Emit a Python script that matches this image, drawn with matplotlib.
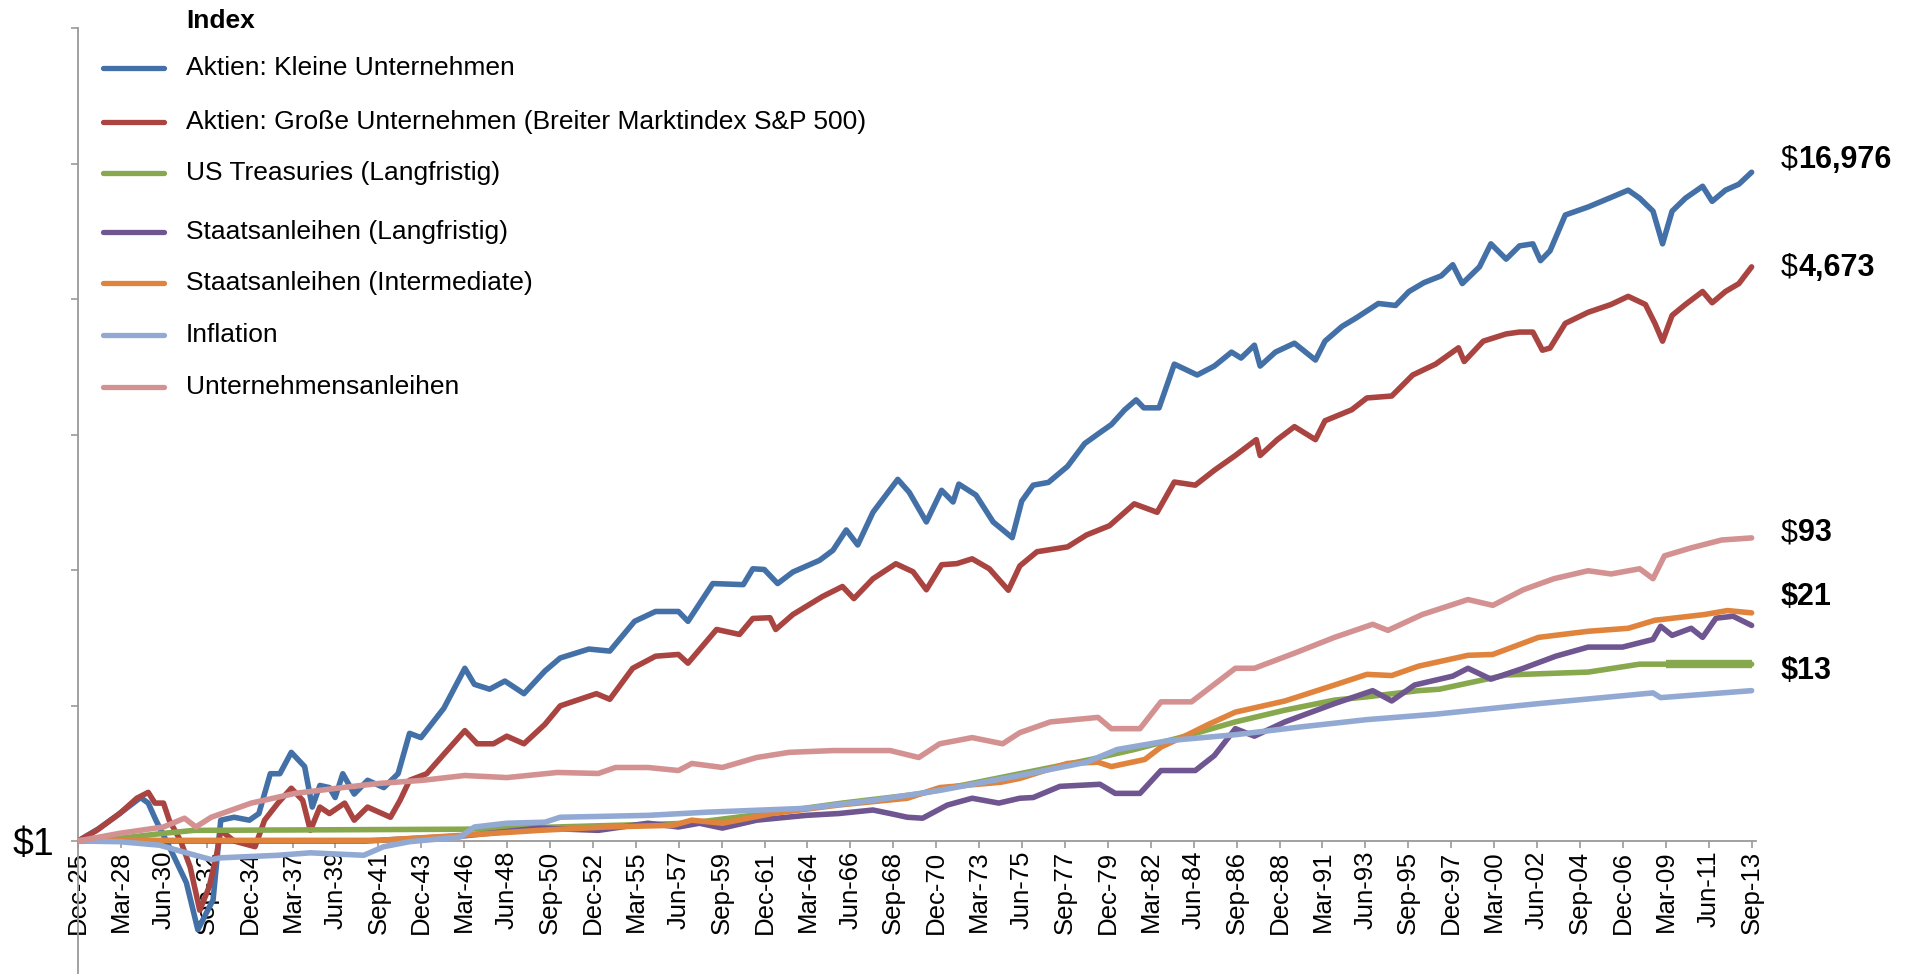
import numpy as np
import matplotlib
matplotlib.use('Agg')
import matplotlib.pyplot as plt
from matplotlib.lines import Line2D
from matplotlib.ticker import NullLocator
from matplotlib.transforms import offset_copy

plt.rcParams['font.family'] = ['Liberation Sans', 'DejaVu Sans']

# Series (growth of $1), x in decimal years
yrs_small = [1925.92, 1927.0, 1928.1, 1929.2, 1929.6, 1930.0, 1930.7, 1931.6, 1932.2, 1933.0, 1933.4, 1934.1,
             1934.9, 1935.4, 1936.0, 1936.5, 1937.1, 1937.8, 1938.2, 1938.6, 1939.1, 1939.4, 1939.8, 1940.4,
             1941.1, 1941.95, 1942.7, 1943.3, 1943.9, 1945.1, 1946.2, 1946.7, 1947.5, 1948.3, 1949.3, 1950.4,
             1951.2, 1952.7, 1953.8, 1955.1, 1956.2, 1957.4, 1957.9, 1959.2, 1960.8, 1961.3, 1961.9, 1962.6,
             1963.4, 1964.8, 1965.5, 1966.2, 1966.8, 1967.6, 1968.9, 1969.5, 1970.4, 1971.2, 1971.8, 1972.1,
             1973.0, 1973.9, 1974.9, 1975.4, 1976.0, 1976.8, 1977.8, 1978.7, 1979.5, 1980.1, 1980.8, 1981.4,
             1981.8, 1982.6, 1983.4, 1984.6, 1985.5, 1986.4, 1986.9, 1987.6, 1987.9, 1988.7, 1989.7, 1990.8,
             1991.3, 1992.2, 1992.9, 1994.1, 1995.0, 1995.7, 1996.5, 1997.4, 1998.0, 1998.5, 1999.4, 2000.0,
             2000.8, 2001.5, 2002.2, 2002.6, 2003.1, 2003.9, 2005.1, 2006.2, 2007.2, 2007.8, 2008.5, 2009.0,
             2009.5, 2010.2, 2011.1, 2011.6, 2012.3, 2013.0, 2013.67]
val_small = [1.0, 1.2, 1.5, 1.9, 1.75, 1.36, 0.92, 0.54, 0.27, 0.42, 1.36, 1.42,
             1.36, 1.5, 2.7, 2.7, 3.7, 3.0, 1.65, 2.27, 2.2, 1.9, 2.7, 2.0,
             2.45, 2.2, 2.7, 4.9, 4.6, 7.1, 12.8, 10.1, 9.4, 10.6, 8.8, 12.3,
             14.9, 17, 16.5, 25.6, 29.6, 29.6, 25.6, 44.7, 44, 55.6, 55, 44.7,
             53, 63, 73, 98.6, 79, 128, 208, 172, 111, 177, 149, 194,
             165, 111, 88, 151, 191, 199, 252, 353, 415, 467, 581, 673,
             598, 598, 1140, 971, 1108, 1361, 1247, 1508, 1108, 1361, 1553, 1211,
             1600, 1992, 2240, 2790, 2710, 3327, 3800, 4200, 4943, 3744, 4790, 6730,
             5370, 6530, 6730, 5250, 6070, 10300, 11600, 13200, 14860, 13200, 10900, 6730,
             10900, 13200, 15740, 12600, 14860, 16220, 19360]

yrs_large = [1925.92, 1926.9, 1928.1, 1929.0, 1929.6, 1929.95, 1930.4, 1930.7, 1931.3, 1931.8, 1932.3, 1932.8,
             1933.2, 1933.4, 1934.1, 1935.2, 1935.7, 1936.4, 1937.1, 1937.7, 1938.1, 1938.6, 1939.1, 1939.9,
             1940.4, 1941.1, 1942.3, 1942.8, 1943.3, 1944.2, 1945.1, 1946.2, 1946.85, 1947.7, 1948.4, 1949.3,
             1950.4, 1951.2, 1953.1, 1953.8, 1955.0, 1956.2, 1957.4, 1957.9, 1959.4, 1960.6, 1961.3, 1962.2,
             1962.5, 1963.4, 1964.95, 1966.0, 1966.6, 1967.6, 1968.8, 1969.7, 1970.4, 1971.2, 1972.0, 1972.8,
             1973.7, 1974.7, 1975.3, 1976.2, 1977.8, 1978.8, 1980.0, 1981.3, 1982.5, 1983.4, 1984.5, 1985.5,
             1986.6, 1987.7, 1987.9, 1988.8, 1989.7, 1990.8, 1991.3, 1992.7, 1993.5, 1994.8, 1995.9, 1997.1,
             1998.3, 1998.6, 1999.6, 2000.8, 2001.5, 2002.2, 2002.7, 2003.1, 2003.9, 2005.1, 2006.3, 2007.2,
             2008.1, 2008.6, 2009.0, 2009.5, 2010.2, 2011.1, 2011.6, 2012.3, 2013.0, 2013.67]
val_large = [1.0, 1.17, 1.5, 1.88, 2.05, 1.75, 1.75, 1.36, 1.0, 0.68, 0.36, 0.51,
             0.84, 1.17, 1.0, 0.92, 1.36, 1.75, 2.18, 1.82, 1.17, 1.65, 1.5, 1.75,
             1.36, 1.65, 1.42, 1.82, 2.45, 2.7, 3.6, 5.1, 4.2, 4.2, 4.7, 4.2,
             5.6, 7.35, 8.8, 8.1, 12.8, 15.3, 15.7, 13.8, 22.7, 21.1, 26.7, 27,
             22.7, 28.3, 36.9, 42.8, 35.8, 48, 59.9, 53.2, 40.8, 59, 60, 64.4,
             55.6, 40.5, 58, 71.5, 76.8, 91.6, 105, 145, 128, 200, 191, 238,
             296, 374, 296, 374, 453, 374, 494, 581, 692, 712, 971, 1140,
             1450, 1185, 1600, 1780, 1830, 1830, 1400, 1445, 2080, 2450, 2750, 3100,
             2750, 2080, 1600, 2340, 2750, 3330, 2820, 3330, 3740, 4790]

yrs_treas = [1925.92, 1928.1, 1930.4, 1932.0, 1946.2, 1951.0, 1958.0, 1962.0, 1966.0, 1970.0, 1975.3, 1979.0,
             1981.3, 1983.9, 1986.6, 1989.2, 1991.8, 1993.5, 1996.2, 1997.3, 2000.8, 2005.1, 2007.8, 2009.2,
             2013.67]
val_treas = [1.0, 1.04, 1.12, 1.17, 1.19, 1.23, 1.30, 1.5, 1.75, 2.0, 2.7, 3.33,
             3.86, 4.67, 5.8, 6.9, 8.0, 8.4, 9.2, 9.4, 11.6, 12.1, 13.6, 13.6,
             13.6]

yrs_govlong = [1925.92, 1941.0, 1946.2, 1950.1, 1953.2, 1955.8, 1957.4, 1958.5, 1959.7, 1961.5, 1964.1, 1965.8,
               1967.6, 1968.5, 1969.4, 1970.2, 1971.5, 1972.8, 1974.2, 1975.3, 1976.0, 1977.4, 1979.5, 1980.3,
               1981.6, 1982.7, 1984.5, 1985.5, 1986.6, 1987.6, 1989.2, 1991.8, 1993.8, 1994.8, 1996.0, 1998.0,
               1998.8, 2000.0, 2001.7, 2003.4, 2005.1, 2006.9, 2008.5, 2008.9, 2009.5, 2010.5, 2011.1, 2011.8,
               2012.7, 2013.67]
val_govlong = [1.0, 1.0, 1.08, 1.21, 1.17, 1.30, 1.23, 1.30, 1.21, 1.36, 1.46, 1.5,
               1.58, 1.5, 1.42, 1.40, 1.7, 1.88, 1.75, 1.88, 1.9, 2.24, 2.31, 2.02,
               2.02, 2.83, 2.83, 3.53, 5.25, 4.7, 5.8, 7.6, 9.2, 7.9, 10, 11.4,
               12.8, 10.9, 12.8, 15.3, 17.5, 17.5, 19.6, 23.8, 20.8, 23.1, 20.2, 26.8,
               27.6, 24.1]

yrs_govint = [1925.92, 1941.7, 1946.2, 1950.1, 1953.6, 1957.1, 1958.1, 1959.7, 1962.3, 1965.8, 1969.4, 1971.1,
              1974.3, 1975.3, 1977.8, 1979.4, 1980.1, 1981.85, 1982.7, 1984.1, 1985.2, 1986.6, 1989.2, 1991.8,
              1993.5, 1994.8, 1996.2, 1998.8, 2000.1, 2002.5, 2005.1, 2007.2, 2008.6, 2011.2, 2012.4, 2013.67]
val_govint = [1.01, 1.01, 1.09, 1.17, 1.23, 1.26, 1.36, 1.30, 1.5, 1.7, 1.88, 2.2,
              2.38, 2.52, 3.14, 3.2, 3.0, 3.33, 4.0, 4.8, 5.6, 6.7, 7.9, 10,
              11.7, 11.5, 13.2, 15.5, 15.7, 20.2, 22.1, 23.1, 26, 28.3, 30, 29]

yrs_infl = [1925.92, 1928.1, 1930.2, 1931.6, 1932.9, 1933.4, 1936.4, 1938.1, 1940.9, 1941.95, 1943.3, 1945.95,
            1946.7, 1948.4, 1950.4, 1951.2, 1955.8, 1958.9, 1964.1, 1967.6, 1971.1, 1975.3, 1978.8, 1980.4,
            1983.1, 1986.6, 1990.1, 1993.5, 1997.1, 2002.5, 2008.5, 2008.9, 2013.67]
val_infl = [1.0, 0.99, 0.94, 0.84, 0.76, 0.78, 0.81, 0.84, 0.81, 0.92, 0.99, 1.06,
            1.23, 1.30, 1.32, 1.42, 1.46, 1.53, 1.62, 1.82, 2.11, 2.63, 3.2, 3.86,
            4.4, 4.8, 5.4, 6.0, 6.5, 7.6, 8.9, 8.3, 9.2]

yrs_corp = [1925.92, 1928.1, 1930.4, 1931.5, 1932.1, 1932.9, 1935.0, 1937.3, 1939.5, 1941.7, 1944.0, 1946.2,
            1948.4, 1951.05, 1953.2, 1954.1, 1955.8, 1957.4, 1958.1, 1959.7, 1961.5, 1963.2, 1965.5, 1968.5,
            1970.0, 1971.1, 1972.8, 1974.4, 1975.3, 1976.9, 1979.4, 1980.1, 1981.6, 1982.7, 1984.3, 1986.6,
            1987.6, 1989.7, 1991.8, 1993.8, 1994.6, 1996.4, 1998.8, 2000.1, 2001.7, 2003.3, 2005.1, 2006.3,
            2007.8, 2008.5, 2009.1, 2010.5, 2012.1, 2013.67]
val_corp = [1.0, 1.12, 1.23, 1.40, 1.23, 1.42, 1.75, 2.02, 2.18, 2.34, 2.45, 2.63,
            2.55, 2.75, 2.71, 2.96, 2.96, 2.83, 3.14, 2.96, 3.43, 3.7, 3.8, 3.8,
            3.43, 4.2, 4.6, 4.2, 4.95, 5.8, 6.2, 5.25, 5.25, 7.8, 7.8, 12.8,
            12.8, 16, 20.2, 24.5, 22.4, 28.3, 35.3, 32.4, 40.8, 48, 54, 51.5,
            55.6, 48, 67.3, 75.7, 85, 87.7]

legend_labels = ['Aktien: Kleine Unternehmen',
                 'Aktien: Große Unternehmen (Breiter Marktindex S&P 500)',
                 'US Treasuries (Langfristig)',
                 'Staatsanleihen (Langfristig)',
                 'Staatsanleihen (Intermediate)',
                 'Inflation',
                 'Unternehmensanleihen']
colors = ['#4470A8', '#A94441', '#87A84C', '#6F5691', '#E0843D', '#92AAD3', '#D39291']

x_labels = ['Dec-25', 'Mar-28', 'Jun-30', 'Sep-32', 'Dec-34', 'Mar-37', 'Jun-39', 'Sep-41', 'Dec-43', 'Mar-46',
            'Jun-48', 'Sep-50', 'Dec-52', 'Mar-55', 'Jun-57', 'Sep-59', 'Dec-61', 'Mar-64', 'Jun-66', 'Sep-68',
            'Dec-70', 'Mar-73', 'Jun-75', 'Sep-77', 'Dec-79', 'Mar-82', 'Jun-84', 'Sep-86', 'Dec-88', 'Mar-91',
            'Jun-93', 'Sep-95', 'Dec-97', 'Mar-00', 'Jun-02', 'Sep-04', 'Dec-06', 'Mar-09', 'Jun-11', 'Sep-13']

# end labels at the right edge
end_numbers = ['16,976', '4,673', '93', '21', '13']
end_thin_dollar = [True, True, True, False, False]
end_label_y = [160, 268, 533, 597, 671]  # pixel rows, from top


month_idx = {'Jan': 0, 'Feb': 1, 'Mar': 2, 'Apr': 3, 'May': 4, 'Jun': 5,
             'Jul': 6, 'Aug': 7, 'Sep': 8, 'Oct': 9, 'Nov': 10, 'Dec': 11}


def label_to_year(lbl):
    m, yy = lbl.split('-')
    yy = int(yy)
    year = 1900 + yy if yy >= 25 else 2000 + yy
    return year + month_idx[m] / 12.0


W, H = 1908, 974
fig = plt.figure(figsize=(W / 100, H / 100), dpi=100)
ax = fig.add_axes([78 / W, 0.0, (1756 - 78) / W, (H - 28) / H])

series = [(yrs_small, val_small), (yrs_large, val_large), (yrs_treas, val_treas),
          (yrs_govlong, val_govlong), (yrs_govint, val_govint), (yrs_infl, val_infl),
          (yrs_corp, val_corp)]
for (xs, ys), c in zip(series, colors):
    ax.plot(xs, ys, color=c, lw=4.0, solid_joinstyle='round', solid_capstyle='round', zorder=3)

# treasury tail is drawn heavier in the original
tx = np.array(yrs_treas)
tv = np.array(val_treas)
tail = tx >= 2009.2
ax.plot(tx[tail], tv[tail], color=colors[2], lw=6.0, solid_capstyle='butt', zorder=3)

ax.set_yscale('log')
ax.set_ylim(np.exp(-1.963), np.exp(12))
ax.set_xlim(1925.917, 2013.9)

ax.yaxis.set_minor_locator(NullLocator())
yt = [np.exp(2 * k) for k in range(0, 7)]
ax.set_yticks(yt)
ax.set_yticklabels(['$1'] + [''] * 6)
ax.tick_params(axis='y', direction='out', length=5, width=1.2, color='#9a9a9a',
               labelsize=27, pad=12)

ax.set_xticks([label_to_year(l) for l in x_labels])
ax.set_xticklabels(x_labels)
ax.tick_params(axis='x', direction='out', length=5, width=1.2, color='#9a9a9a',
               labelsize=18.5, pad=2, labelrotation=90)

for s in ['top', 'right']:
    ax.spines[s].set_visible(False)
ax.spines['left'].set_color('#9a9a9a')
ax.spines['left'].set_linewidth(1.3)
ax.spines['bottom'].set_position(('data', 1.0))
ax.spines['bottom'].set_color('#9a9a9a')
ax.spines['bottom'].set_linewidth(1.3)
ax.spines['bottom'].set_zorder(2)

# legend drawn by hand
fig.text(186 / W, 1 - 21 / H, 'Index', fontsize=19, fontweight='bold', va='center', ha='left')
leg_y = [68, 122, 173, 232, 283, 335, 387]
for lbl, c, yy in zip(legend_labels, colors, leg_y):
    fig.add_artist(Line2D([103 / W, 164 / W], [1 - yy / H, 1 - yy / H], transform=fig.transFigure,
                          color=c, lw=3.8, solid_capstyle='round'))
    fig.text(186 / W, 1 - yy / H, lbl, fontsize=19, va='center', ha='left')

# end labels
for thin, num, yy in zip(end_thin_dollar, end_numbers, end_label_y):
    if thin:
        fig.text(1781 / W, 1 - yy / H, '$', fontsize=22, va='center', ha='left')
        tr = offset_copy(fig.transFigure, fig=fig, x=12.3, y=0, units='points')
        fig.text(1781 / W, 1 - yy / H, num, fontsize=22, fontweight='bold', va='center', ha='left',
                 transform=tr)
    else:
        fig.text(1781 / W, 1 - yy / H, '$' + num, fontsize=22, fontweight='bold', va='center', ha='left')

fig.savefig('out.png', dpi=100)
